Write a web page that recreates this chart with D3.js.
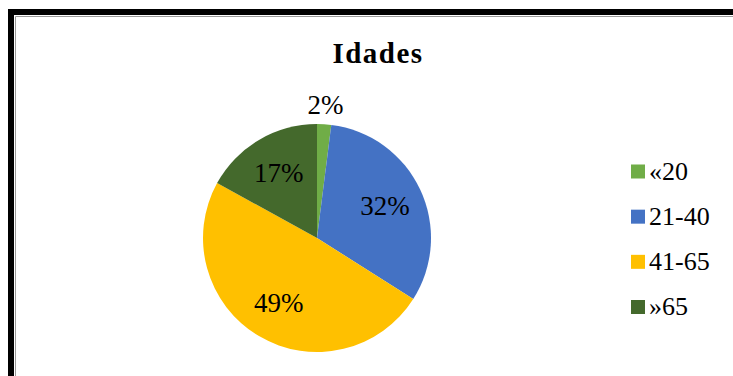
<!DOCTYPE html>
<html>
<head>
<meta charset="utf-8">
<script src="https://cdn.jsdelivr.net/npm/d3@7"></script>
<style>
  html, body { margin: 0; padding: 0; background: #fff; }
  svg { display: block; }
</style>
</head>
<body>
<svg id="chart" width="733" height="376"></svg>
<script>
// Age groups and their share of respondents (%)
const categories = ["«20", "21-40", "41-65", "»65"];
const values = [2, 32, 49, 17];
const colors = ["#70AD47", "#4472C4", "#FFC000", "#44692C"];
const title = "Idades";

const svg = d3.select("#chart");
const W = 733, H = 376;

// Frame: heavy black edge with a thin grey inner rule
svg.append("rect").attr("x", 0).attr("y", 0).attr("width", W).attr("height", H).attr("fill", "#fff");
svg.append("path")
  .attr("d", `M11,${H + 5} L11,12 L${W + 5},12`)
  .attr("fill", "none").attr("stroke", "#000").attr("stroke-width", 6);
svg.append("path")
  .attr("d", `M15.5,${H + 5} L15.5,16.5 L${W + 5},16.5`)
  .attr("fill", "none").attr("stroke", "#999").attr("stroke-width", 1);

// Title
svg.append("text")
  .attr("x", 378).attr("y", 63)
  .attr("text-anchor", "middle")
  .attr("font-family", "'Liberation Serif', 'Times New Roman', serif")
  .attr("font-weight", "bold")
  .attr("font-size", 29)
  .attr("letter-spacing", 1.5)
  .text(title);

// Pie
const cx = 317, cy = 238, R = 114;
const color = d3.scaleOrdinal().domain(categories).range(colors);
const pie = d3.pie().value(d => d.value).sort(null);
const data = categories.map((c, i) => ({ cat: c, value: values[i] }));
const arcs = pie(data);
const arc = d3.arc().innerRadius(0).outerRadius(R);

const g = svg.append("g").attr("transform", `translate(${cx},${cy})`);
g.selectAll("path.slice")
  .data(arcs)
  .join("path")
  .attr("class", "slice")
  .attr("d", arc)
  .attr("fill", d => color(d.data.cat));

// Percent labels: inside for larger slices, outside for thin ones
const inner = d3.arc().innerRadius(R * 0.66).outerRadius(R * 0.66);
const outer = d3.arc().innerRadius(R * 1.17).outerRadius(R * 1.17);
g.selectAll("text.pct")
  .data(arcs)
  .join("text")
  .attr("class", "pct")
  .attr("transform", d => {
    const p = (d.data.value < 5 ? outer : inner).centroid(d);
    return `translate(${p[0]},${p[1]})`;
  })
  .attr("text-anchor", "middle")
  .attr("dy", "0.33em")
  .attr("font-family", "'Liberation Serif', 'Times New Roman', serif")
  .attr("font-size", 27)
  .attr("fill", "#000")
  .text(d => `${d.data.value}%`);

// Legend
const legendY = d3.scalePoint().domain(categories).range([171.5, 307]);
const lg = svg.append("g");
const rows = lg.selectAll("g").data(categories).join("g")
  .attr("transform", c => `translate(631,${legendY(c)})`);
rows.append("rect")
  .attr("x", 0).attr("y", -7).attr("width", 14).attr("height", 14)
  .attr("fill", c => color(c));
rows.append("text")
  .attr("x", 18).attr("y", 8)
  .attr("font-family", "'Liberation Serif', 'Times New Roman', serif")
  .attr("font-size", 26)
  .attr("fill", "#000")
  .text(c => c);
</script>
</body>
</html>
